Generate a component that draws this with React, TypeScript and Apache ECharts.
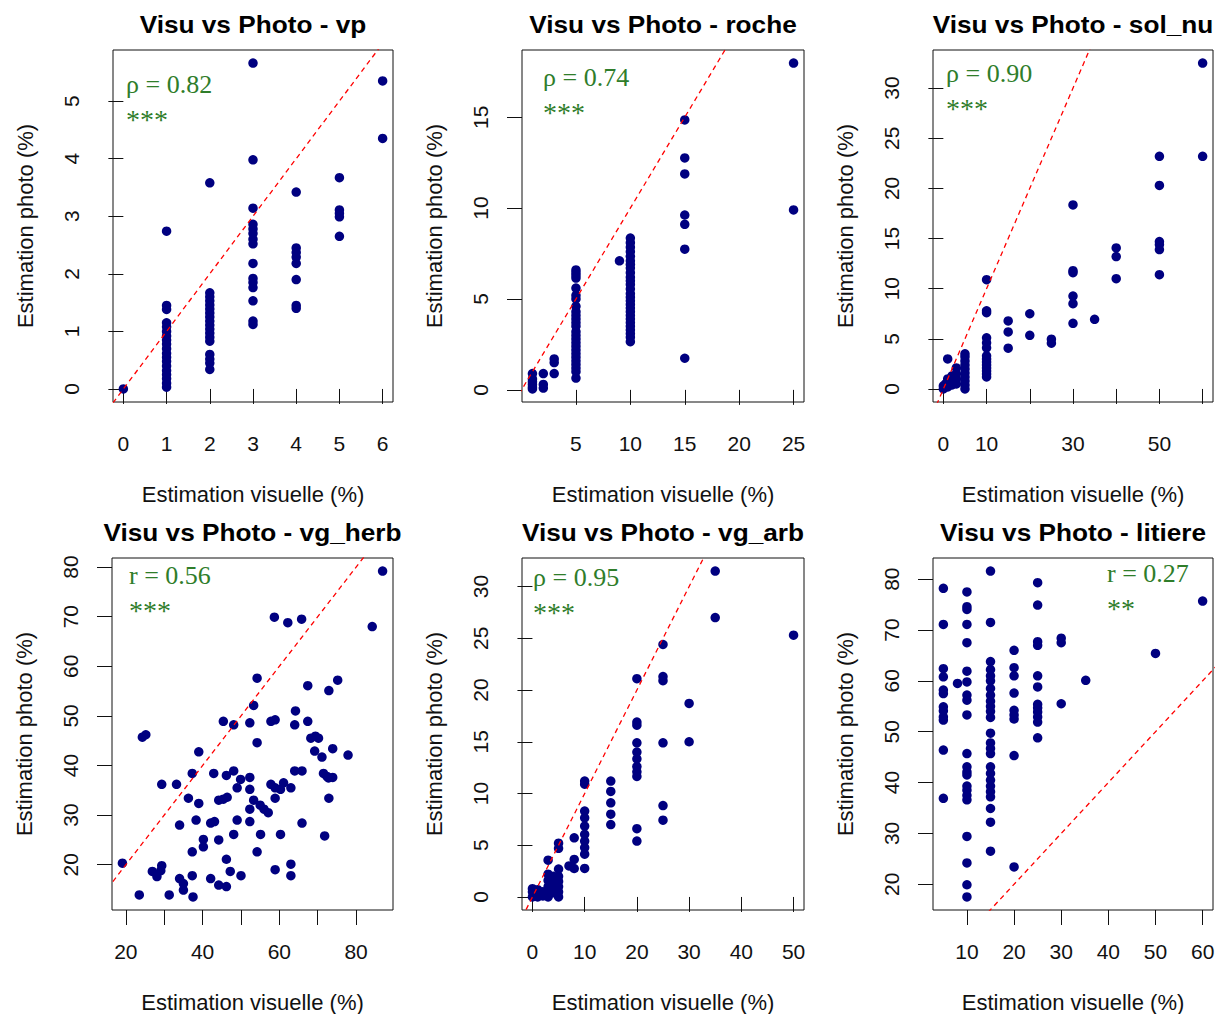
import React, { useEffect, useRef } from "react";
import * as echarts from "echarts";

// ---------- data (x = visual estimate, y = photo estimate) ----------
const vpData: [number, number][] = [
  [0, 0],
  [1, 2.74], [1, 1.45], [1, 1.38], [1, 1.15], [1, 1.08], [1, 1.0], [1, 0.92], [1, 0.85], [1, 0.78], [1, 0.7],
  [1, 0.62], [1, 0.55], [1, 0.48], [1, 0.4], [1, 0.32], [1, 0.25], [1, 0.18], [1, 0.1], [1, 0.03],
  [2, 3.58], [2, 1.67], [2, 1.6], [2, 1.53], [2, 1.46], [2, 1.39], [2, 1.32], [2, 1.25], [2, 1.18], [2, 1.11],
  [2, 1.04], [2, 0.97], [2, 0.9], [2, 0.83], [2, 0.6], [2, 0.52], [2, 0.45], [2, 0.34],
  [3, 5.66], [3, 3.98], [3, 3.14], [3, 2.86], [3, 2.78], [3, 2.7], [3, 2.6], [3, 2.52], [3, 2.18], [3, 1.92],
  [3, 1.85], [3, 1.76], [3, 1.53], [3, 1.18], [3, 1.12],
  [4, 3.42], [4, 2.45], [4, 2.37], [4, 2.29], [4, 2.18], [4, 1.9], [4, 1.45], [4, 1.4],
  [5, 3.67], [5, 3.11], [5, 3.05], [5, 2.99], [5, 2.65],
  [6, 5.35], [6, 4.35],
];

const rocheData: [number, number][] = [
  [1, 0.9], [1, 0.6], [1, 0.45], [1, 0.3], [1, 0.15], [1, 0.05],
  [2, 0.9], [2, 0.3], [2, 0.1],
  [3, 1.7], [3, 1.5], [3, 0.9],
  [5, 6.6], [5, 6.45], [5, 6.3], [5, 6.15], [5, 5.6], [5, 5.2], [5, 5.0], [5, 4.6], [5, 4.3], [5, 4.1],
  [5, 3.9], [5, 3.7], [5, 3.5], [5, 3.2], [5, 3.0], [5, 2.8], [5, 2.6], [5, 2.4], [5, 2.2], [5, 2.0],
  [5, 1.8], [5, 1.6], [5, 1.4], [5, 1.2], [5, 1.0], [5, 0.65],
  [9, 7.1],
  [10, 8.35], [10, 8.1], [10, 7.85], [10, 7.6], [10, 7.35], [10, 7.1], [10, 6.9], [10, 6.7], [10, 6.45],
  [10, 6.2], [10, 6.0], [10, 5.8], [10, 5.55], [10, 5.3], [10, 5.1], [10, 4.9], [10, 4.7], [10, 4.5],
  [10, 4.3], [10, 4.1], [10, 3.9], [10, 3.7], [10, 3.5], [10, 3.3], [10, 3.1], [10, 2.9], [10, 2.65],
  [15, 14.85], [15, 12.76], [15, 11.88], [15, 9.62], [15, 9.11], [15, 7.74], [15, 1.74],
  [25, 17.98], [25, 9.9],
];

const solNuData: [number, number][] = [
  [0, 0], [0, 0.3], [0.5, 0.5], [1, 0.2], [1, 0.6], [1, 1.0], [1, 3.0], [2, 0.4], [2, 0.8], [2, 1.3],
  [3, 0.5], [3, 1.0], [3, 1.5], [3, 2.1],
  [5, 0], [5, 0.4], [5, 0.8], [5, 1.2], [5, 1.6], [5, 2.0], [5, 2.4], [5, 2.8], [5, 3.2], [5, 3.5],
  [10, 10.9], [10, 7.8], [10, 7.6], [10, 5.1], [10, 4.6], [10, 4.1], [10, 3.3], [10, 3.0], [10, 2.7],
  [10, 2.4], [10, 2.1], [10, 1.8], [10, 1.5], [10, 1.2],
  [15, 6.78], [15, 5.69], [15, 4.07],
  [20, 7.5], [20, 5.35],
  [25, 4.96], [25, 4.56],
  [30, 18.35], [30, 11.8], [30, 11.6], [30, 9.26], [30, 8.5], [30, 6.55],
  [35, 6.94],
  [40, 14.06], [40, 13.2], [40, 11.0],
  [50, 23.2], [50, 20.3], [50, 14.7], [50, 14.4], [50, 13.9], [50, 11.4],
  [60, 32.5], [60, 23.2],
];

const vgHerbData: [number, number][] = [
  [86.9, 79.2], [58.7, 69.9], [62.2, 68.8], [65.8, 69.5], [84.2, 68.0], [54.2, 57.6], [67.4, 56.1],
  [75.2, 57.2], [72.9, 55.1], [53.3, 52.1], [64.2, 51.0], [45.4, 48.9], [48.1, 48.2], [52.3, 48.6],
  [57.8, 48.9], [58.9, 49.2], [64.0, 48.2], [67.4, 48.9], [24.3, 45.7], [25.2, 46.2], [54.2, 44.6],
  [68.2, 45.5], [69.4, 45.9], [70.2, 45.5], [39.0, 42.75], [69.2, 42.9], [71.1, 41.7], [73.9, 43.4],
  [77.9, 42.1], [29.35, 36.2], [33.2, 36.2], [37.3, 38.4], [42.9, 38.4], [46.2, 38.0], [48.1, 38.9],
  [49.9, 37.2], [49.0, 35.5], [52.3, 37.6], [52.3, 35.2], [57.8, 36.2], [58.9, 35.5], [60.3, 35.2],
  [61.1, 36.5], [63.0, 35.5], [64.0, 38.9], [65.9, 38.9], [71.5, 38.4], [72.8, 37.5], [73.9, 37.6],
  [72.4, 37.8], [36.3, 33.4], [39.0, 32.35], [44.2, 33.0], [45.4, 33.2], [46.4, 33.6], [53.3, 33.0],
  [55.0, 32.0], [56.0, 31.2], [57.1, 30.5], [52.3, 31.2], [58.9, 33.4], [72.9, 33.4], [34.0, 28.0],
  [38.3, 29.0], [42.1, 28.4], [43.1, 28.7], [49.0, 29.0], [52.3, 28.7], [65.9, 28.4], [40.2, 25.1],
  [40.2, 23.6], [44.2, 25.0], [48.1, 26.1], [55.1, 26.1], [60.3, 26.1], [71.8, 25.8], [37.3, 22.6],
  [54.2, 22.6], [19.1, 20.3], [26.9, 18.65], [28.1, 17.6], [29.35, 19.8], [29.1, 18.8], [46.2, 21.1],
  [34.0, 17.2], [35.0, 16.2], [35.0, 14.9], [37.3, 17.8], [42.1, 17.2], [44.2, 15.9], [46.2, 15.6],
  [47.2, 18.65], [50.0, 17.8], [58.9, 19.0], [63.0, 20.1], [63.0, 17.8], [23.5, 13.9], [31.3, 13.9],
  [37.5, 13.5],
];

const vgArbData: [number, number][] = [
  [35, 31.5], [35, 27.0], [50, 25.3], [25, 24.4], [25, 21.3], [25, 20.9], [20, 21.1], [30, 18.7],
  [20, 16.9], [20, 16.6], [20, 14.9], [20, 14.0], [20, 13.35], [20, 12.6], [20, 12.1], [20, 11.65],
  [25, 14.9], [30, 15.0],
  [15, 11.2], [15, 10.2], [15, 9.1], [15, 8.0], [15, 7.0],
  [10, 11.2], [10, 10.9], [10, 8.3], [10, 7.65], [10, 6.85], [10, 6.05], [10, 5.4], [10, 4.77], [10, 4.13],
  [10, 2.76], [25, 8.83], [25, 7.42], [20, 6.6], [20, 5.4],
  [8, 5.72], [8, 3.63], [7, 3.0], [8, 2.75],
  [5, 5.2], [5, 4.7], [3, 3.55],
  [3, 2.2], [3, 1.6], [3, 1.0], [3, 0.5], [3, 0], [4, 2.0], [4, 1.2], [4, 0.4],
  [5, 2.7], [5, 2.0], [5, 1.5], [5, 1.0], [5, 0.5], [5, 0],
  [0, 0], [0, 0.5], [0, 0.8], [1, 0], [1, 0.3], [1, 0.7], [1.5, 0.2], [2, 0.5], [2, 0.1],
];

const litiereData: [number, number][] = [
  [5, 78.2], [5, 71.1], [5, 62.4], [5, 60.8], [5, 58.2], [5, 57.5], [5, 54.9], [5, 54.1], [5, 52.9],
  [5, 52.3], [5, 46.4], [5, 36.9],
  [8, 59.5],
  [10, 77.5], [10, 74.6], [10, 74.05], [10, 71.1], [10, 67.5], [10, 61.9], [10, 59.8], [10, 57.2],
  [10, 56.2], [10, 53.3], [10, 45.7], [10, 43.1], [10, 42.1], [10, 41.5], [10, 39.3], [10, 38.5],
  [10, 37.5], [10, 36.6], [10, 29.4], [10, 24.2], [10, 19.9], [10, 17.5],
  [15, 81.6], [15, 71.5], [15, 63.8], [15, 62.2], [15, 61.0], [15, 60.0], [15, 58.5], [15, 57.2],
  [15, 56.0], [15, 55.0], [15, 54.0], [15, 52.8], [15, 49.7], [15, 47.8], [15, 46.7], [15, 45.7],
  [15, 43.1], [15, 41.8], [15, 40.5], [15, 39.3], [15, 38.2], [15, 37.2], [15, 34.9], [15, 32.2], [15, 26.5],
  [20, 66.0], [20, 62.6], [20, 61.0], [20, 57.6], [20, 54.2], [20, 53.3], [20, 52.5], [20, 45.3], [20, 23.4],
  [25, 79.3], [25, 74.9], [25, 67.7], [25, 67.0], [25, 61.0], [25, 58.8], [25, 55.4], [25, 54.7],
  [25, 53.9], [25, 52.9], [25, 51.9], [25, 48.8],
  [30, 68.4], [30, 67.5], [30, 55.5],
  [35.2, 60.1], [50, 65.4], [60, 75.7],
];

// ---------- per-panel text & ticks ----------
const panelTitles = [
  "Visu vs Photo - vp",
  "Visu vs Photo - roche",
  "Visu vs Photo - sol_nu",
  "Visu vs Photo - vg_herb",
  "Visu vs Photo - vg_arb",
  "Visu vs Photo - litiere",
];
const statLabels = ["ρ = 0.82", "ρ = 0.74", "ρ = 0.90", "r = 0.56", "ρ = 0.95", "r = 0.27"];
const starLabels = ["***", "***", "***", "***", "***", "**"];

const xTickValues = [
  [0, 1, 2, 3, 4, 5, 6],
  [5, 10, 15, 20, 25],
  [0, 10, 20, 30, 40, 50, 60],
  [20, 30, 40, 50, 60, 70, 80],
  [0, 10, 20, 30, 40, 50],
  [10, 20, 30, 40, 50, 60],
];
const xLabelValues = [
  [0, 1, 2, 3, 4, 5, 6],
  [5, 10, 15, 20, 25],
  [0, 10, 30, 50],
  [20, 40, 60, 80],
  [0, 10, 20, 30, 40, 50],
  [10, 20, 30, 40, 50, 60],
];
const yTickValues = [
  [0, 1, 2, 3, 4, 5],
  [0, 5, 10, 15],
  [0, 5, 10, 15, 20, 25, 30],
  [20, 30, 40, 50, 60, 70, 80],
  [0, 5, 10, 15, 20, 25, 30],
  [20, 30, 40, 50, 60, 70, 80],
];

const xAxisTitle = "Estimation visuelle (%)";
const yAxisTitle = "Estimation photo (%)";

const allData = [vpData, rocheData, solNuData, vgHerbData, vgArbData, litiereData];

// ---------- layout ----------
const boxes = [
  { left: 113, top: 50, width: 280, height: 352 },
  { left: 522, top: 50, width: 282, height: 352 },
  { left: 933, top: 50, width: 280, height: 352 },
  { left: 112, top: 558, width: 281, height: 352 },
  { left: 522, top: 558, width: 282, height: 352 },
  { left: 933, top: 558, width: 280, height: 352 },
];
const statPos = [
  { x: 126, y: 84 },
  { x: 543, y: 77 },
  { x: 946, y: 73 },
  { x: 129, y: 575 },
  { x: 533, y: 577 },
  { x: 1107, y: 573 },
];

const SANS = "'Liberation Sans', Arial, Helvetica, sans-serif";
const SERIF = "'Liberation Serif', 'Times New Roman', serif";
const GREEN = "#2f7d2a";

function padRange(vals: number[]) {
  const lo = Math.min(...vals);
  const hi = Math.max(...vals);
  const d = (hi - lo) * 0.04;
  return [lo - d, hi + d];
}

export default function App() {
  const ref = useRef<HTMLDivElement>(null);
  useEffect(() => {
    if (!ref.current) return;
    const chart = echarts.init(ref.current, undefined, { renderer: "svg" });

    const grids: any[] = [];
    const xAxes: any[] = [];
    const yAxes: any[] = [];
    const series: any[] = [];
    const graphics: any[] = [];

    allData.forEach((data, i) => {
      const b = boxes[i];
      const [xmin, xmax] = padRange(data.map((d) => d[0]));
      const [ymin, ymax] = padRange(data.map((d) => d[1]));
      grids.push({
        left: b.left,
        top: b.top,
        width: b.width,
        height: b.height,
        show: true,
        borderColor: "#111",
        borderWidth: 1,
        backgroundColor: "transparent",
        containLabel: false,
      });
      xAxes.push({
        type: "value",
        gridIndex: i,
        min: xmin,
        max: xmax,
        axisLine: { show: false },
        splitLine: { show: false },
        axisTick: {
          show: true,
          inside: false,
          length: 15,
          customValues: xTickValues[i],
          lineStyle: { color: "#111", width: 1 },
        },
        axisLabel: {
          customValues: xLabelValues[i],
          margin: 31,
          fontSize: 21,
          fontFamily: SANS,
          color: "#111",
        },
        name: xAxisTitle,
        nameLocation: "middle",
        nameGap: 81,
        nameTextStyle: { fontSize: 22, fontFamily: SANS, color: "#111" },
      });
      yAxes.push({
        type: "value",
        gridIndex: i,
        min: ymin,
        max: ymax,
        axisLine: { show: false },
        splitLine: { show: false },
        axisTick: {
          show: true,
          inside: false,
          length: 15,
          customValues: yTickValues[i],
          lineStyle: { color: "#111", width: 1 },
        },
        axisLabel: {
          customValues: yTickValues[i],
          rotate: 90,
          margin: 31,
          fontSize: 21,
          fontFamily: SANS,
          color: "#111",
        },
        name: yAxisTitle,
        nameLocation: "middle",
        nameGap: 77,
        nameRotate: 90,
        nameTextStyle: { fontSize: 22, fontFamily: SANS, color: "#111" },
      });
      series.push({
        type: "scatter",
        xAxisIndex: i,
        yAxisIndex: i,
        data,
        symbol: "circle",
        symbolSize: 9.5,
        itemStyle: { color: "#000080", opacity: 1 },
        silent: true,
        z: 2,
      });
      const lo = Math.min(xmin, ymin);
      const hi = Math.max(xmax, ymax);
      series.push({
        type: "line",
        xAxisIndex: i,
        yAxisIndex: i,
        data: [
          [lo, lo],
          [hi, hi],
        ],
        symbol: "none",
        clip: true,
        silent: true,
        lineStyle: { color: "#ff0000", width: 1.3, type: [5, 4] },
        z: 3,
      });
      graphics.push({
        type: "text",
        x: b.left + b.width / 2,
        y: b.top - 25,
        scaleX: 1.14,
        style: {
          text: panelTitles[i],
          fontSize: 23,
          fontWeight: "bold",
          fontFamily: SANS,
          fill: "#000",
          align: "center",
          verticalAlign: "middle",
        },
      });
      graphics.push({
        type: "text",
        x: statPos[i].x,
        y: statPos[i].y,
        style: {
          text: statLabels[i],
          fontSize: 26,
          fontFamily: SERIF,
          fill: GREEN,
          align: "left",
          verticalAlign: "middle",
        },
      });
      graphics.push({
        type: "text",
        x: statPos[i].x,
        y: statPos[i].y + 35,
        style: {
          text: starLabels[i],
          fontSize: 28,
          fontFamily: SERIF,
          fill: GREEN,
          align: "left",
          verticalAlign: "middle",
        },
      });
    });

    chart.setOption({
      animation: false,
      backgroundColor: "#ffffff",
      grid: grids,
      xAxis: xAxes,
      yAxis: yAxes,
      series,
      graphic: graphics,
    });
    return () => chart.dispose();
  }, []);

  return (
    <div
      ref={ref}
      style={{ position: "absolute", left: 0, top: 0, width: 1223, height: 1014 }}
    />
  );
}
